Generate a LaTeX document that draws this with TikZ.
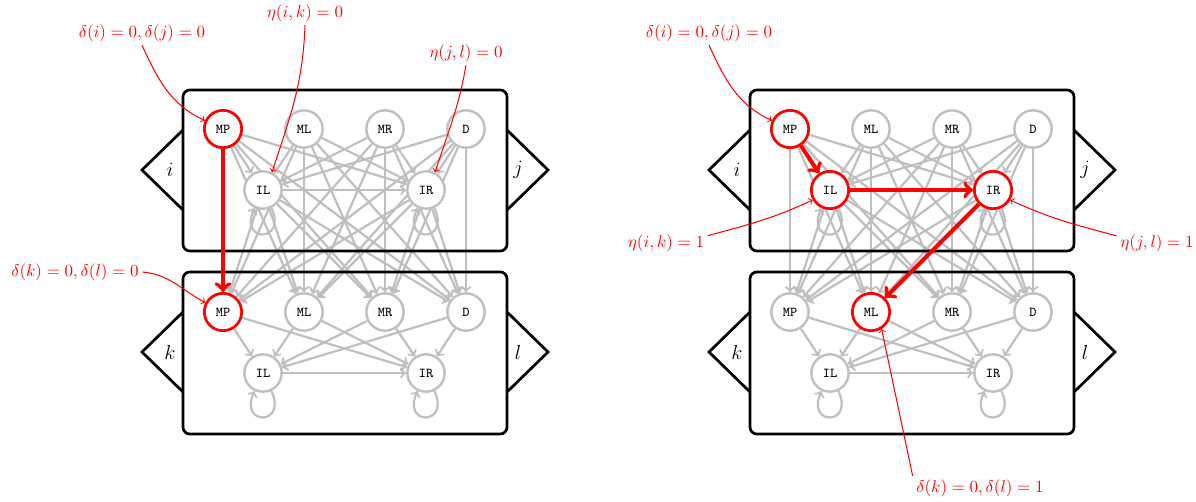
\documentclass[tikz,border=0pt]{standalone}
\usepackage{amsmath,amssymb}

\pgfdeclarelayer{back}
\pgfsetlayers{back,main}

\begin{document}
\begin{tikzpicture}[x=0.0207cm, y=0.0207cm,
	st/.style={draw=gray!50, line width=1.4pt, circle, fill=white, minimum size=22pt, inner sep=0pt, font=\footnotesize\ttfamily},
	hot/.style={draw=red, line width=1.6pt},
	gedge/.style={->, line width=1.3pt, gray!50},
	redge/.style={->, line width=2.4pt, red},
	note/.style={->, red, semithick},
	lbl/.style={text=red, inner sep=2pt},
	side/.style={font=\large}]
	\useasboundingbox (0,0) rectangle (1196,501);

	% left panel: MP -> MP
	\node[st, hot] (a1MP) at (223,372) {MP};
	\node[st] (a1ML) at (304,372) {ML};
	\node[st] (a1MR) at (385,372) {MR};
	\node[st] (a1D) at (466,372) {D};
	\node[st] (a1IL) at (263,311) {IL};
	\node[st] (a1IR) at (426,311) {IR};
	\node[st, hot] (a2MP) at (223,189) {MP};
	\node[st] (a2ML) at (304,189) {ML};
	\node[st] (a2MR) at (385,189) {MR};
	\node[st] (a2D) at (466,189) {D};
	\node[st] (a2IL) at (263,128) {IL};
	\node[st] (a2IR) at (426,128) {IR};

	% right panel: MP -> IL -> IR -> ML
	\node[st, hot] (b1MP) at (790,372) {MP};
	\node[st] (b1ML) at (871,372) {ML};
	\node[st] (b1MR) at (952,372) {MR};
	\node[st] (b1D) at (1033,372) {D};
	\node[st, hot] (b1IL) at (830,311) {IL};
	\node[st, hot] (b1IR) at (993,311) {IR};
	\node[st] (b2MP) at (790,189) {MP};
	\node[st, hot] (b2ML) at (871,189) {ML};
	\node[st] (b2MR) at (952,189) {MR};
	\node[st] (b2D) at (1033,189) {D};
	\node[st] (b2IL) at (830,128) {IL};
	\node[st] (b2IR) at (993,128) {IR};

	\begin{pgfonlayer}{back}
		\foreach \pn in {a,b} {
			\foreach \lv in {1,2} {
				\foreach \s in {MP,ML,MR,D} {
					\draw[gedge] (\pn\lv\s) -- (\pn\lv IL);
					\draw[gedge] (\pn\lv\s) -- (\pn\lv IR);
				}
				\draw[gedge] (\pn\lv IL) -- (\pn\lv IR);
				\draw[gedge] (\pn\lv IL.-65) .. controls +(-65:8mm) and +(-115:8mm) .. (\pn\lv IL.-115);
				\draw[gedge] (\pn\lv IR.-65) .. controls +(-65:8mm) and +(-115:8mm) .. (\pn\lv IR.-115);
			}
			\foreach \s in {MP,ML,MR,D,IL,IR}
				\foreach \t in {MP,ML,MR,D}
					\draw[gedge] (\pn1\s) -- (\pn2\t);
		}
		% boxes with their side flags
		\foreach \pn/\dx in {a/0,b/567} {
			\begin{scope}[shift={(\dx,0)}]
				\draw[line width=1.6pt, rounded corners=4pt] (183,411) rectangle (507,250);
				\draw[line width=1.6pt, rounded corners=4pt] (183,229) rectangle (507,67);
				\draw[line width=1.6pt] (183,371) -- (142,331) -- (183,291);
				\draw[line width=1.6pt] (507,371) -- (548,331) -- (507,291);
				\draw[line width=1.6pt] (183,189) -- (142,149) -- (183,109);
				\draw[line width=1.6pt] (507,189) -- (548,149) -- (507,109);
				\node[side] (\pn Ti) at (170,331) {$i$};
				\node[side] (\pn Tj) at (518,331) {$j$};
				\node[side] (\pn Tk) at (170,149) {$k$};
				\node[side] (\pn Tl) at (518,149) {$l$};
			\end{scope}
		}
	\end{pgfonlayer}

	% chosen paths
	\draw[redge] (a1MP) -- (a2MP);
	\draw[redge] (b1MP) -- (b1IL);
	\draw[redge] (b1IL) -- (b1IR);
	\draw[redge] (b1IR) -- (b2ML);

	% notes, left
	\node[lbl] (a1dd) at (142,468) {$\delta(i)=0,\delta(j)=0$};
	\node[lbl] (a1ik) at (305,488) {$\eta(i,k)=0$};
	\node[lbl] (a1jl) at (466,448) {$\eta(j,l)=0$};
	\node[lbl] (a2dd) at (75,229) {$\delta(k)=0,\delta(l)=0$};
	\draw[note] (a1dd.south) to[out=-65, in=155] (a1MP.155);
	\draw[note] (a1ik.south) to[out=-92, in=72] (a1IL.63);
	\draw[note] (a1jl.south) to[out=-100, in=72] (a1IR.63);
	\draw[note] (a2dd.east) to[out=-5, in=152] (a2MP.152);

	% notes, right
	\node[lbl] (b1dd) at (709,468) {$\delta(i)=0,\delta(j)=0$};
	\node[lbl] (b1ik) at (666,258) {$\eta(i,k)=1$};
	\node[lbl] (b1jl) at (1157,258) {$\eta(j,l)=1$};
	\node[lbl] (b2dd) at (980,13) {$\delta(k)=0,\delta(l)=1$};
	\draw[note] (b1dd.south) to[out=-65, in=155] (b1MP.155);
	\draw[note] (b1ik.10) to[out=15, in=205] (b1IL.210);
	\draw[note] (b1jl.170) to[out=165, in=-25] (b1IR.-30);
	\draw[note] (b2dd.north west) -- (b2ML.-58);
\end{tikzpicture}
\end{document}
